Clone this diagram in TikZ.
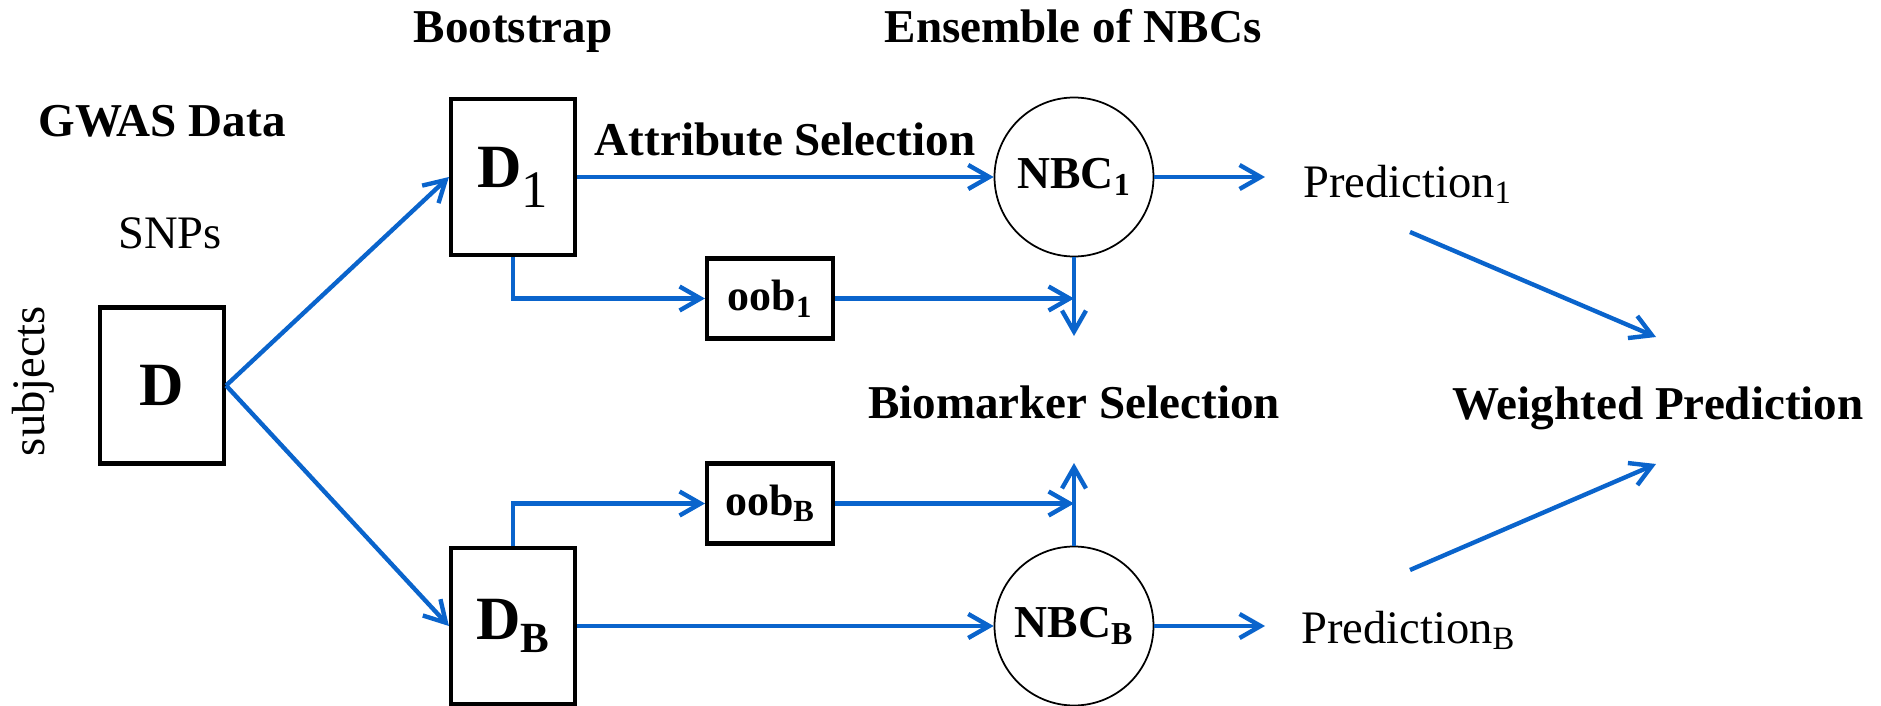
\documentclass[tikz,border=0pt]{standalone}
\usepackage{fontspec}
\setmainfont{Liberation Serif}
\usepackage{tikz}
\usetikzlibrary{arrows.meta,positioning}
\definecolor{FlowBlue}{HTML}{0A64CC}

\begin{document}
\begin{tikzpicture}[x=0.02cm,y=-0.02cm,
        databox/.style={draw,line width=2.4pt,minimum width=2.48cm,
                        minimum height=3.12cm,inner sep=0pt,
                        font=\fontsize{35}{40}\selectfont\bfseries},
        oobbox/.style={draw,line width=2.3pt,minimum width=2.52cm,
                       minimum height=1.6cm,inner sep=0pt,
                       font=\fontsize{25}{28}\selectfont\bfseries},
        nbc/.style={circle,draw,line width=1pt,minimum size=3.18cm,
                    inner sep=0pt,font=\fontsize{26}{30}\selectfont\bfseries},
        heading/.style={inner sep=0pt,anchor=base,
                        font=\fontsize{26.8}{32}\selectfont\bfseries},
        plain/.style={inner sep=0pt,font=\fontsize{26.5}{32}\selectfont},
        arrow/.style={-{Straight Barb[length=4.2mm,width=4.8mm]},
                      FlowBlue,line width=2.5pt},
        link/.style={FlowBlue,line width=2.5pt}]
        \useasboundingbox (0,0) rectangle (1881,706);
        % data and bootstrap samples
        \node[databox] (D) at (162,385.5) {D};
        \node[databox] (D1) at (513,177)
          {D\textsubscript{\mdseries\fontsize{30}{30}\selectfont 1}};
        \node[databox] (DB) at (513,626) {D\textsubscript{B}};
        \node[oobbox] (oob1) at (770,298.5) {oob\textsubscript{1}};
        \node[oobbox] (oobB) at (770,503.5) {oob\textsubscript{B}};
        \node[nbc] (nbc1) at (1074,177) {NBC\textsubscript{1}};
        \node[nbc] (nbcB) at (1074,626) {NBC\textsubscript{B}};
        % titles
        \node[heading] (gwas) at (162,137) {GWAS Data};
        \node[plain,anchor=base] (snps) at (170,248) {SNPs};
        \node[plain,anchor=base,rotate=90] (subj) at (44,381) {subjects};
        \node[heading] (boot) at (513,43) {Bootstrap};
        \node[heading] (attr) at (785,155) {Attribute Selection};
        \node[heading] (ens) at (1073,43) {Ensemble of NBCs};
        \node[heading] (bio) at (1074,418) {Biomarker Selection};
        \node[heading] (wpred) at (1658,419) {Weighted Prediction};
        \node[plain,anchor=base west] (pred1) at (1303,197)
          {Prediction\textsubscript{1}};
        \node[plain,anchor=base west] (predB) at (1301,643)
          {Prediction\textsubscript{B}};
        % free arrow ends
        \coordinate (join1) at (oob1.east -| nbc1.south);
        \coordinate (joinB) at (oobB.east -| nbcB.north);
        \coordinate (bio1) at (1074,336);
        \coordinate (bioB) at (1074,463);
        \coordinate (out1) at (1265,177);
        \coordinate (outB) at (1265,626);
        \coordinate (w1s) at (1410,232);
        \coordinate (w1e) at (1656,337);
        \coordinate (wBs) at (1410,570);
        \coordinate (wBe) at (1656,464);
        \draw[arrow] (D.east)--(D1.west);
        \draw[arrow] (D.east)--(DB.west);
        \draw[arrow] (D1.east)--(nbc1.west);
        \draw[arrow] (DB.east)--(nbcB.west);
        \draw[arrow] (D1.south) |- (oob1.west);
        \draw[arrow] (DB.north) |- (oobB.west);
        \draw[arrow] (oob1.east)--(join1);
        \draw[arrow] (oobB.east)--(joinB);
        \draw[arrow] (nbc1.south)--(bio1);
        \draw[arrow] (nbcB.north)--(bioB);
        \draw[arrow] (nbc1.east)--(out1);
        \draw[arrow] (nbcB.east)--(outB);
        \draw[arrow] (w1s)--(w1e);
        \draw[arrow] (wBs)--(wBe);
      \end{tikzpicture}
\end{document}
